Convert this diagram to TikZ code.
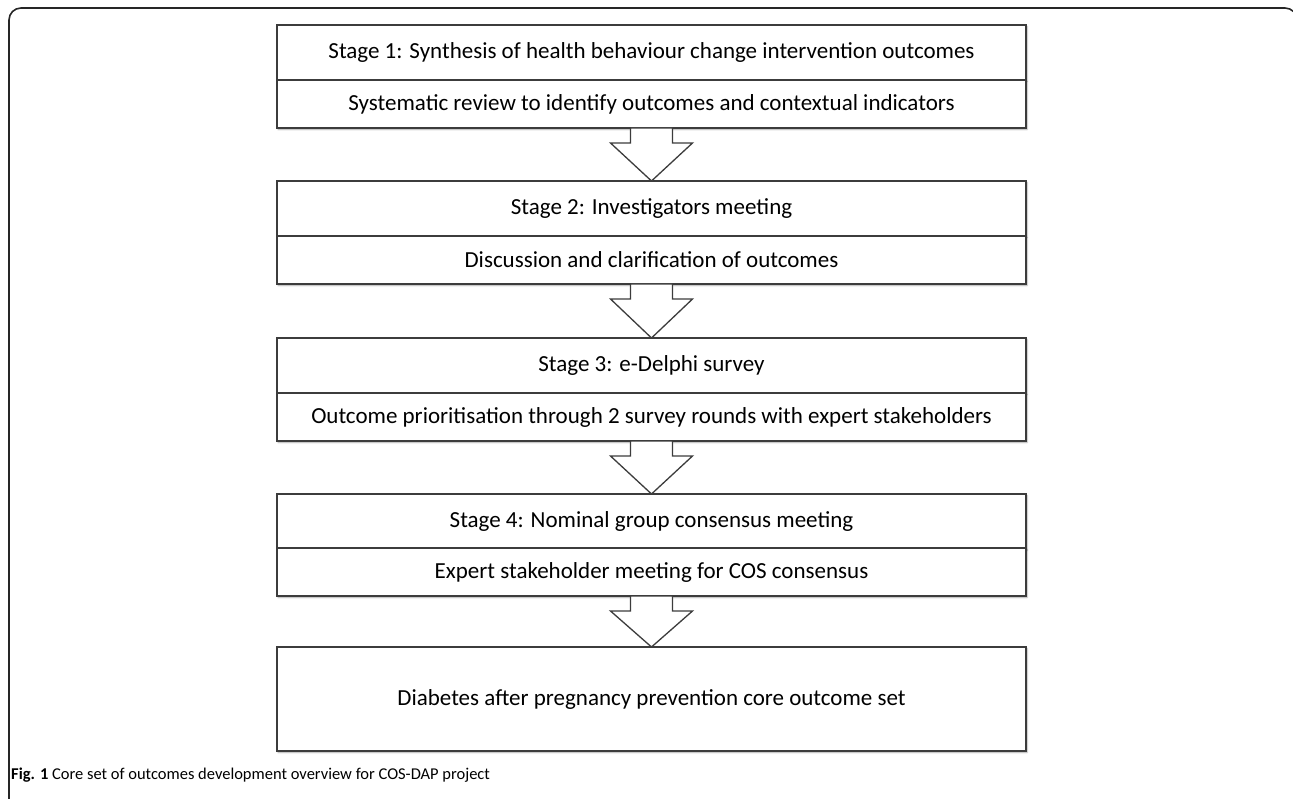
\documentclass[tikz,border=0pt]{standalone}
\usepackage{fontspec}
\setmainfont{Carlito}
\usetikzlibrary{calc,shadows.blur}
\definecolor{edge}{HTML}{3C3C3C}
\tikzset{
  half/.style={draw=edge, line width=1.3pt, fill=white, minimum width=749pt,
    inner sep=0pt, outer sep=0pt, font=\fontsize{23}{27}\selectfont,
    blur shadow={shadow xshift=1pt, shadow yshift=-1.5pt, shadow blur radius=1.5pt, shadow opacity=35}},
  tophalf/.style={half, minimum height=55pt},
  bothalf/.style={half, minimum height=48pt},
  fullbox/.style={half, minimum height=104pt},
  blockarrow/.style={draw=edge, line width=1.3pt, fill=white, line join=miter},
  frameline/.style={draw=black!85, line width=1.6pt}
}
\newcommand{\blockarr}[2]{%
  \draw[blockarrow] ($(#1.south)+(-21,0)$) -- ($(#1.south)+(-21,15)$) -- ($(#1.south)+(-41,15)$)
    -- (#2.north) -- ($(#1.south)+(41,15)$) -- ($(#1.south)+(21,15)$) -- ($(#1.south)+(21,0)$) -- cycle;}
\begin{document}
\begin{tikzpicture}[x=1pt,y=-1pt]
\useasboundingbox (0,0) rectangle (1293,799);
\begin{scope}
  \clip (0,0) rectangle (1293,799);
  \draw[frameline, rounded corners=12pt] (9,840) -- (9,8) -- (1297,8) -- (1297,840);
\end{scope}
% stage 1
\node[tophalf] (s1a) at (651.5,52.5) {Stage 1: Synthesis of health behaviour change intervention outcomes};
\node[bothalf] (s1b) at (651.5,104) {Systematic review to identify outcomes and contextual indicators};
% stage 2
\node[tophalf] (s2a) at (651.5,208.5) {Stage 2: Investigators meeting};
\node[bothalf] (s2b) at (651.5,260) {Discussion and clarification of outcomes};
% stage 3
\node[tophalf] (s3a) at (651.5,365.5) {Stage 3: e-Delphi survey};
\node[bothalf] (s3b) at (651.5,417) {Outcome prioritisation through 2 survey rounds with expert stakeholders};
% stage 4
\node[tophalf] (s4a) at (651.5,521.5) {Stage 4: Nominal group consensus meeting};
\node[bothalf] (s4b) at (651.5,572) {Expert stakeholder meeting for COS consensus};
% final
\node[fullbox] (fin) at (651.5,699) {Diabetes after pregnancy prevention core outcome set};
% arrows
\blockarr{s1b}{s2a}
\blockarr{s2b}{s3a}
\blockarr{s3b}{s4a}
\blockarr{s4b}{fin}
% caption
\node[anchor=base west, inner sep=0pt, font=\fontsize{16.5}{20}\selectfont] (cap) at (11,779)
  {\textbf{Fig. 1} Core set of outcomes development overview for COS-DAP project};
\end{tikzpicture}
\end{document}
